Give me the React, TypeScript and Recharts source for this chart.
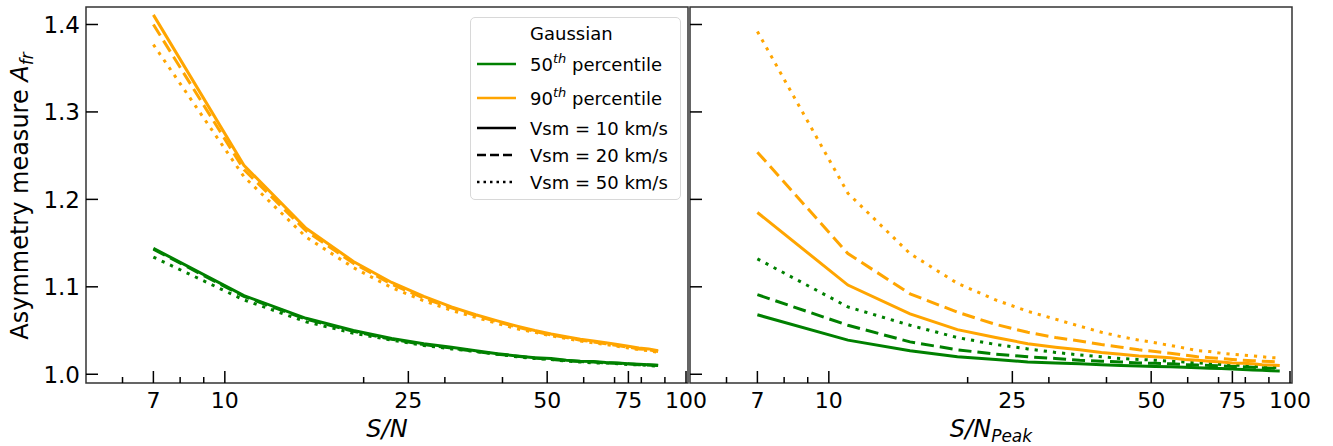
import React from "react";
import { LineChart, Line, XAxis, YAxis, ReferenceArea, Label } from "recharts";

const GREEN = "#008000";
const ORANGE = "#ffa500";

// S/N values of the left panel, S/N_peak of the right panel
const snLeft = [7, 11, 15, 19, 23, 27, 31, 35, 39, 43, 47, 51, 55, 59, 63, 67, 71, 75, 79, 83, 87];
const snPeak = [7, 11, 15, 19, 23, 27, 31, 35, 39, 43, 47, 51, 55, 59, 63, 67, 71, 75, 79, 83, 87, 91, 95];

// left panel, 50th percentile (green)
const leftP50v10 = [1.144, 1.09, 1.064, 1.05, 1.041, 1.035, 1.031, 1.027, 1.0235, 1.021, 1.019, 1.018, 1.016, 1.015, 1.0145, 1.0135, 1.013, 1.012, 1.0115, 1.011, 1.0103];
const leftP50v20 = [1.143, 1.089, 1.063, 1.049, 1.04, 1.034, 1.03, 1.026, 1.023, 1.0205, 1.0185, 1.017, 1.0155, 1.0145, 1.014, 1.013, 1.0125, 1.012, 1.011, 1.0105, 1.01];
const leftP50v50 = [1.134, 1.085, 1.06, 1.047, 1.039, 1.033, 1.029, 1.026, 1.023, 1.02, 1.018, 1.017, 1.015, 1.014, 1.013, 1.013, 1.012, 1.011, 1.011, 1.01, 1.009];
// left panel, 90th percentile (orange)
const leftP90v10 = [1.411, 1.239, 1.167, 1.129, 1.105, 1.089, 1.077, 1.068, 1.061, 1.055, 1.05, 1.046, 1.043, 1.04, 1.038, 1.036, 1.034, 1.032, 1.03, 1.029, 1.027];
const leftP90v20 = [1.4, 1.234, 1.164, 1.127, 1.103, 1.087, 1.076, 1.067, 1.06, 1.054, 1.049, 1.045, 1.042, 1.039, 1.037, 1.035, 1.033, 1.031, 1.029, 1.028, 1.026];
const leftP90v50 = [1.377, 1.226, 1.157, 1.122, 1.099, 1.084, 1.073, 1.065, 1.058, 1.052, 1.048, 1.044, 1.041, 1.038, 1.036, 1.034, 1.032, 1.03, 1.028, 1.027, 1.025];

// right panel, 50th percentile (green)
const rightP50v10 = [1.068, 1.039, 1.027, 1.02, 1.017, 1.014, 1.013, 1.012, 1.011, 1.01, 1.0095, 1.009, 1.0085, 1.008, 1.0075, 1.007, 1.0065, 1.006, 1.0055, 1.005, 1.0045, 1.004, 1.0038];
const rightP50v20 = [1.091, 1.056, 1.037, 1.028, 1.023, 1.02, 1.018, 1.016, 1.015, 1.014, 1.013, 1.0125, 1.012, 1.011, 1.0105, 1.01, 1.0095, 1.009, 1.0085, 1.008, 1.0075, 1.007, 1.0068];
const rightP50v50 = [1.132, 1.077, 1.056, 1.042, 1.034, 1.029, 1.025, 1.022, 1.02, 1.018, 1.017, 1.016, 1.015, 1.014, 1.013, 1.012, 1.011, 1.0105, 1.01, 1.009, 1.0085, 1.008, 1.0077];
// right panel, 90th percentile (orange)
const rightP90v10 = [1.185, 1.102, 1.069, 1.051, 1.042, 1.035, 1.031, 1.028, 1.025, 1.023, 1.021, 1.02, 1.019, 1.017, 1.016, 1.015, 1.014, 1.013, 1.0125, 1.012, 1.011, 1.0105, 1.01];
const rightP90v20 = [1.254, 1.138, 1.092, 1.071, 1.057, 1.048, 1.042, 1.038, 1.034, 1.031, 1.028, 1.026, 1.024, 1.022, 1.02, 1.019, 1.018, 1.017, 1.016, 1.0155, 1.015, 1.0145, 1.014];
const rightP90v50 = [1.392, 1.207, 1.138, 1.104, 1.085, 1.072, 1.063, 1.055, 1.048, 1.043, 1.039, 1.036, 1.033, 1.03, 1.027, 1.026, 1.024, 1.023, 1.022, 1.021, 1.02, 1.019, 1.0185];

const xMajor = [7, 10, 25, 50, 75, 100];
const xTicks = [6, 7, 8, 9, 10, 20, 25, 30, 40, 50, 60, 70, 75, 80, 90, 100];
const yTicks = [1.0, 1.1, 1.2, 1.3, 1.4];
const X_DOMAIN = [5, 101];
const Y_DOMAIN = [0.99, 1.42];

const DASH = "13 6";
const DOT = "3.2 6";
const LW = 3;

const leftData = snLeft.map((x, i) => ({
  x,
  g10: leftP50v10[i], g20: leftP50v20[i], g50: leftP50v50[i],
  o10: leftP90v10[i], o20: leftP90v20[i], o50: leftP90v50[i],
}));

const rightData = snPeak.map((x, i) => ({
  x,
  g10: rightP50v10[i], g20: rightP50v20[i], g50: rightP50v50[i],
  o10: rightP90v10[i], o20: rightP90v20[i], o50: rightP90v50[i],
}));

function XTick(props: any) {
  const { x, y, payload } = props;
  const major = xMajor.includes(payload.value);
  return (
    <g>
      <line x1={x} x2={x} y1={y} y2={y - (major ? 12 : 6)} stroke="#000" strokeWidth={1.5} />
      {major && (
        <text x={x} y={y + 25} textAnchor="middle" fontSize={22} fill="#000">
          {payload.value}
        </text>
      )}
    </g>
  );
}

function YTick(props: any) {
  const { x, y, payload, showLabel } = props;
  return (
    <g>
      <line x1={x} x2={x + 12} y1={y} y2={y} stroke="#000" strokeWidth={1.5} />
      {showLabel && (
        <text x={x - 6} y={y + 8.5} textAnchor="end" fontSize={23} fill="#000">
          {payload.value.toFixed(1)}
        </text>
      )}
    </g>
  );
}

function XTitle({ viewBox, sub, cx }: any) {
  const mid = cx ?? viewBox.x + viewBox.width / 2;
  return (
    <text x={mid} y={437} textAnchor="middle" fontSize={24} fontStyle="italic" fill="#000">
      S/N
      {sub && (
        <tspan fontSize={17} dy={5}>
          {sub}
        </tspan>
      )}
    </text>
  );
}

function YTitle() {
  return (
    <text x={28} y={196} transform="rotate(-90 28 196)" textAnchor="middle" fontSize={24} fill="#000">
      Asymmetry measure <tspan fontStyle="italic">A</tspan>
      <tspan fontStyle="italic" fontSize={17} dy={5}>fr</tspan>
    </text>
  );
}

function Series() {
  return [
    <Line key="g20" dataKey="g20" stroke={GREEN} strokeWidth={LW} strokeDasharray={DASH} dot={false} isAnimationActive={false} />,
    <Line key="g50" dataKey="g50" stroke={GREEN} strokeWidth={LW} strokeDasharray={DOT} dot={false} isAnimationActive={false} />,
    <Line key="g10" dataKey="g10" stroke={GREEN} strokeWidth={LW} dot={false} isAnimationActive={false} />,
    <Line key="o20" dataKey="o20" stroke={ORANGE} strokeWidth={LW} strokeDasharray={DASH} dot={false} isAnimationActive={false} />,
    <Line key="o50" dataKey="o50" stroke={ORANGE} strokeWidth={LW} strokeDasharray={DOT} dot={false} isAnimationActive={false} />,
    <Line key="o10" dataKey="o10" stroke={ORANGE} strokeWidth={LW} dot={false} isAnimationActive={false} />,
  ];
}

function Panel({ data, left, width, yWidth, marginRight, showYLabels, sub, titleX }: any) {
  return (
    <div style={{ position: "absolute", left, top: 0 }}>
      <LineChart width={width} height={446} data={data} margin={{ top: 7, right: marginRight, bottom: 0, left: 0 }}>
        <XAxis
          dataKey="x"
          type="number"
          scale="log"
          domain={X_DOMAIN}
          allowDataOverflow
          ticks={xTicks}
          interval={0}
          tick={<XTick />}
          tickLine={false}
          axisLine={false}
          tickSize={0}
          tickMargin={0}
          height={63}
        >
          <Label content={<XTitle sub={sub} cx={titleX} />} />
        </XAxis>
        <YAxis
          type="number"
          domain={Y_DOMAIN}
          allowDataOverflow
          ticks={yTicks}
          interval={0}
          tick={<YTick showLabel={showYLabels} />}
          tickLine={false}
          axisLine={false}
          tickSize={0}
          tickMargin={0}
          width={yWidth}
        >
          {showYLabels && <Label content={<YTitle />} />}
        </YAxis>
        <ReferenceArea
          x1={X_DOMAIN[0]}
          x2={X_DOMAIN[1]}
          y1={Y_DOMAIN[0]}
          y2={Y_DOMAIN[1]}
          fill="none"
          fillOpacity={0}
          stroke="#333"
          strokeWidth={1.5}
          ifOverflow="visible"
        />
        {Series()}
      </LineChart>
    </div>
  );
}

const legendRows = [
  { label: "Gaussian", color: null, dash: null },
  { label: "50", sup: "th", rest: " percentile", color: GREEN, dash: undefined },
  { label: "90", sup: "th", rest: " percentile", color: ORANGE, dash: undefined },
  { label: "Vsm = 10 km/s", color: "#000", dash: undefined },
  { label: "Vsm = 20 km/s", color: "#000", dash: "9 4" },
  { label: "Vsm = 50 km/s", color: "#000", dash: "2.5 4" },
];
const legendRowY = [16, 47, 81, 111, 138, 165];

function LegendBox() {
  return (
    <div
      style={{
        position: "absolute",
        left: 470,
        top: 17,
        width: 211,
        height: 183,
        border: "1px solid #d8d8d8",
        borderRadius: 5,
        background: "rgba(255,255,255,0.85)",
        boxSizing: "border-box",
      }}
    >
      <svg width={209} height={181} style={{ position: "absolute", left: 0, top: 0 }}>
        {legendRows.map((r: any, i) => {
          const cy = legendRowY[i] - 1;
          return (
            <g key={i}>
              {r.color && (
                <line x1={6} x2={45} y1={cy} y2={cy} stroke={r.color} strokeWidth={2.5} strokeDasharray={r.dash} />
              )}
              <text x={59} y={cy + 6.5} fontSize={18} fill="#000">
                {r.label}
                {r.sup && (
                  <tspan fontSize={13} fontStyle="italic" dy={-8}>
                    {r.sup}
                  </tspan>
                )}
                {r.rest && <tspan dy={8}>{r.rest}</tspan>}
              </text>
            </g>
          );
        })}
      </svg>
    </div>
  );
}

export default function App() {
  return (
    <div
      style={{
        position: "absolute",
        left: 0,
        top: 0,
        width: 1333,
        height: 446,
        background: "#fff",
        fontFamily: "'DejaVu Sans', sans-serif",
      }}
    >
      <Panel data={leftData} left={0} width={720} yWidth={86} marginRight={32} showYLabels={true} titleX={387} />
      <Panel data={rightData} left={680} width={653} yWidth={10} marginRight={41} showYLabels={false} sub="Peak" />
      <LegendBox />
    </div>
  );
}
